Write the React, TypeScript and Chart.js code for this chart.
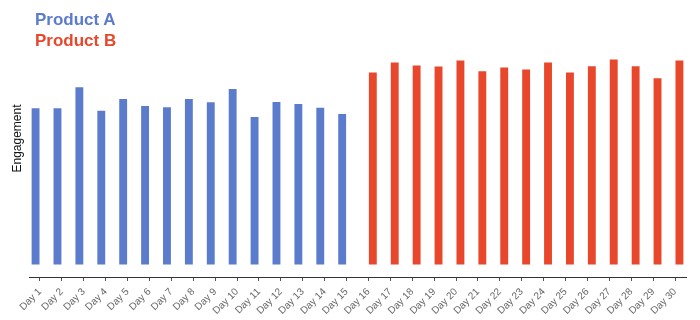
import React, { useEffect, useRef } from 'react';
import { Chart, registerables } from 'chart.js';

Chart.register(...registerables);

const categories = [
  'Day 1', 'Day 2', 'Day 3', 'Day 4', 'Day 5', 'Day 6', 'Day 7', 'Day 8', 'Day 9', 'Day 10',
  'Day 11', 'Day 12', 'Day 13', 'Day 14', 'Day 15', 'Day 16', 'Day 17', 'Day 18', 'Day 19', 'Day 20',
  'Day 21', 'Day 22', 'Day 23', 'Day 24', 'Day 25', 'Day 26', 'Day 27', 'Day 28', 'Day 29', 'Day 30',
];

const productA = [
  62.6, 62.6, 71.0, 61.6, 66.3, 63.5, 63.0, 66.3, 65.0, 70.3,
  59.1, 65.1, 64.3, 62.8, 60.3, null, null, null, null, null,
  null, null, null, null, null, null, null, null, null, null,
];

const productB = [
  null, null, null, null, null, null, null, null, null, null,
  null, null, null, null, null, 76.9, 81.0, 79.8, 79.4, 81.8,
  77.4, 79.0, 78.1, 81.0, 76.9, 79.5, 82.2, 79.5, 74.6, 81.8,
];

const seriesNames = ['Product A', 'Product B'];
const colors = ['#5b7bcc', '#e8472b'];
const yTitle = 'Engagement';

export default function App() {
  const ref = useRef<HTMLCanvasElement | null>(null);

  useEffect(() => {
    document.body.style.margin = '0';
    if (!ref.current) return;
    const chart = new Chart(ref.current, {
      type: 'bar',
      data: {
        labels: categories,
        datasets: [
          { label: seriesNames[0], data: productA, backgroundColor: colors[0] },
          { label: seriesNames[1], data: productB, backgroundColor: colors[1] },
        ],
      },
      options: {
        animation: false,
        responsive: false,
        layout: { padding: { top: 0, right: 14, left: 0, bottom: 0 } },
        plugins: {
          legend: { display: false },
          tooltip: { enabled: false },
        },
        scales: {
          x: {
            grid: {
              display: true,
              drawOnChartArea: false,
              drawTicks: true,
              tickLength: 4,
              offset: false,
              color: '#555',
            },
            border: { display: true, color: '#333', width: 1 },
            ticks: {
              autoSkip: false,
              maxRotation: 45,
              minRotation: 45,
              padding: 5,
              color: '#666',
              font: { family: 'Liberation Sans, Arial, sans-serif', size: 10 },
            },
            afterFit: (s: any) => {
              s.height = 43;
            },
          },
          y: {
            min: -5,
            max: 106,
            grid: { display: false },
            border: { display: false },
            ticks: { display: false },
            title: {
              display: true,
              text: yTitle,
              color: '#111',
              padding: { top: 10, bottom: 0 },
              font: { family: 'Liberation Sans, Arial, sans-serif', size: 12 },
            },
            afterFit: (s: any) => {
              s.width = 29;
            },
          },
        },
      },
    });
    return () => chart.destroy();
  }, []);

  const legendStyle: React.CSSProperties = {
    position: 'absolute',
    left: 35,
    top: 9,
    fontFamily: 'Liberation Sans, Arial, sans-serif',
    fontWeight: 'bold',
    fontSize: 17,
    lineHeight: '21px',
  };

  return (
    <div style={{ position: 'relative', width: 700, height: 320, overflow: 'hidden' }}>
      <canvas ref={ref} width={700} height={320} style={{ display: 'block' }} />
      <div style={legendStyle}>
        <div style={{ color: colors[0] }}>{seriesNames[0]}</div>
        <div style={{ color: colors[1] }}>{seriesNames[1]}</div>
      </div>
    </div>
  );
}
